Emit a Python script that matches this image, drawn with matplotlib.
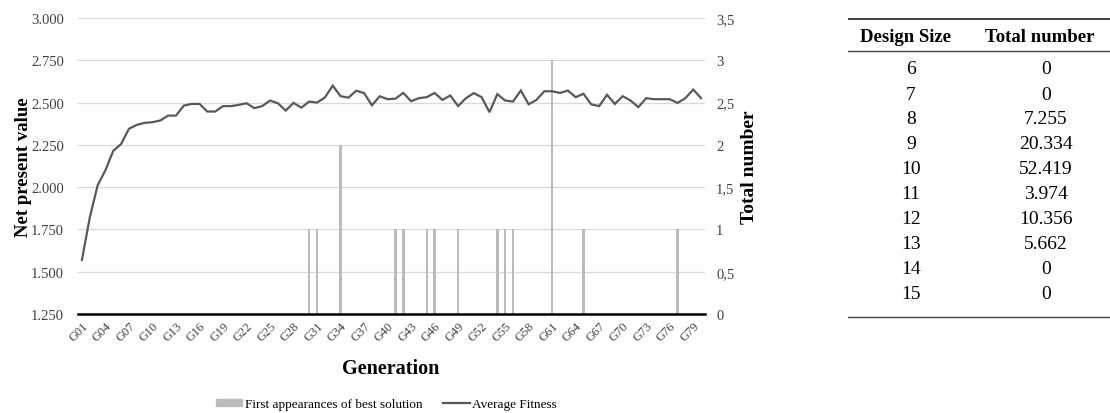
import matplotlib
matplotlib.use("Agg")
import matplotlib.pyplot as plt
from matplotlib.patches import Patch
from matplotlib.lines import Line2D
from matplotlib.ticker import FuncFormatter, MultipleLocator

# datos del grafico
generaciones = ["G%02d" % (i + 1) for i in range(80)]
fitness_medio = [
    1570, 1820, 2010, 2100, 2215, 2255, 2345, 2368, 2380, 2384,
    2394, 2423, 2423, 2482, 2492, 2492, 2447, 2447, 2479, 2479,
    2486, 2496, 2467, 2479, 2512, 2496, 2453, 2498, 2470, 2506,
    2500, 2530, 2600, 2538, 2529, 2570, 2556, 2484, 2537, 2520,
    2523, 2557, 2508, 2526, 2532, 2557, 2516, 2542, 2479, 2526,
    2556, 2532, 2443, 2550, 2512, 2506, 2571, 2490, 2516, 2567,
    2567, 2557, 2571, 2532, 2552, 2489, 2479, 2546, 2492, 2538,
    2512, 2473, 2526, 2520, 2520, 2520, 2498, 2526, 2577, 2526,
]
# primeras apariciones de la mejor solucion (generacion -> cantidad)
apariciones_gen = ["G30", "G31", "G34", "G41", "G42", "G45", "G46", "G49",
                   "G54", "G55", "G56", "G61", "G65", "G77"]
apariciones_num = [1, 1, 2, 1, 1, 1, 1, 1, 1, 1, 1, 3, 1, 1]

# tabla de la derecha
tamanos_diseno = ["6", "7", "8", "9", "10", "11", "12", "13", "14", "15"]
total_numero = ["0", "0", "7.255", "20.334", "52.419", "3.974", "10.356", "5.662", "0", "0"]

COLOR_BARRA = "#BBBBBB"
COLOR_LINEA = "#595959"
plt.rcParams["font.family"] = ["Liberation Serif", "DejaVu Serif"]

fig = plt.figure(figsize=(11.10, 4.14), dpi=100)
ax = fig.add_axes([78 / 1110, 1 - 315 / 414, 627 / 1110, 296 / 414])
ax2 = ax.twinx()
# barras detras, linea delante
ax2.set_zorder(ax.get_zorder() - 1)
ax.patch.set_visible(False)

x = list(range(len(generaciones)))
pos_barras = [generaciones.index(g) for g in apariciones_gen]
ax2.bar(pos_barras, apariciones_num, width=0.32, color=COLOR_BARRA)
ax.plot(x, fitness_medio, color=COLOR_LINEA, lw=1.6, solid_joinstyle="miter")

ax.set_xlim(-0.5, len(generaciones) - 0.5)
ax.set_ylim(1250, 3000)
ax2.set_ylim(0, 3.5)
ax.yaxis.set_major_locator(MultipleLocator(250))
ax2.yaxis.set_major_locator(MultipleLocator(0.5))
ax.yaxis.set_major_formatter(FuncFormatter(lambda v, p: f"{v:,.0f}".replace(",", ".")))
ax2.yaxis.set_major_formatter(FuncFormatter(lambda v, p: f"{v:g}".replace(".", ",")))
ax2.grid(axis="y", color="#D9D9D9", lw=0.9)
ax2.set_axisbelow(True)

ax.set_xticks(x[::3])
ax.set_xticklabels(generaciones[::3], rotation=45, ha="right", rotation_mode="anchor", fontsize=9)
for a in (ax, ax2):
    for s in a.spines.values():
        s.set_visible(False)
    a.tick_params(length=0, labelsize=10.5, colors="#404040")
ax.spines["bottom"].set_visible(True)
ax.spines["bottom"].set_linewidth(1.8)
ax.spines["bottom"].set_color("black")
ax.tick_params(axis="x", pad=4, labelsize=9)
ax.tick_params(axis="y", pad=10)
ax2.tick_params(axis="y", pad=8)

ax.set_ylabel("Net present value", fontsize=13.5, fontweight="bold")
ax2.set_ylabel("Total number", fontsize=14, fontweight="bold")
ax.set_xlabel("Generation", fontsize=14.5, fontweight="bold")
ax.yaxis.set_label_coords(-0.073, 0.5)
ax2.yaxis.set_label_coords(1.058, 0.5)
ax.xaxis.set_label_coords(0.499, -0.15)

handles = [Patch(color=COLOR_BARRA), Line2D([], [], color=COLOR_LINEA, lw=1.6)]
fig.legend(handles, ["First appearances of best solution", "Average Fitness"],
           loc="center", bbox_to_anchor=(0.348, 0.022), ncol=2, frameon=False,
           fontsize=9.5, handlelength=2.0, handleheight=0.45, columnspacing=1.6, handletextpad=0.2)

# tabla
tab = fig.add_axes([848 / 1110, 1 - 320 / 414, 262 / 1110, 302 / 414])
tab.set_axis_off()
tab.set_xlim(0, 262)
tab.set_ylim(320, 18)
tab.axhline(20, color="#404040", lw=1.4)
tab.axhline(52, color="#404040", lw=1.0)
tab.axhline(318, color="#404040", lw=1.0)
tab.text(57, 37, "Design Size", ha="center", va="center", fontsize=13.5, fontweight="bold")
tab.text(192, 37, "Total number", ha="center", va="center", fontsize=13.5, fontweight="bold")
for k, (t, n) in enumerate(zip(tamanos_diseno, total_numero)):
    y = 70 + 25 * k
    tab.text(63, y, t, ha="center", va="center", fontsize=14)
    tab.text(198, y, n, ha="center", va="center", fontsize=14)

fig.savefig("out.png", dpi=100)
